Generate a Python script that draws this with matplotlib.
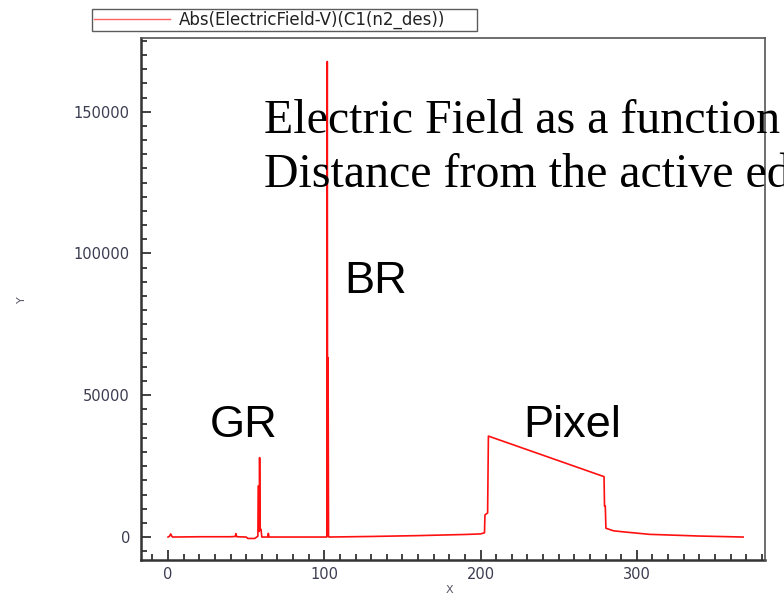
import matplotlib
matplotlib.use("Agg")
import matplotlib.pyplot as plt
from matplotlib.ticker import MultipleLocator
import numpy as np

# |E| along the cut line through the device (x in um, field in V/cm)
pos = [0, 1.0, 1.7, 2.5, 3.0, 20, 40, 43.0, 43.4, 44.0, 50, 51, 55.5, 57.5,
       57.7, 58.1, 58.3, 58.6, 59.0, 59.2, 59.5, 60.0, 63.8, 64.2, 64.6, 70, 100,
       101.6, 101.9, 102.1, 102.4, 102.7, 103.0, 130, 160, 190, 200, 202.5,
       202.8, 204.5, 205.0, 279.0, 279.3, 279.8, 280.2, 285, 290, 308, 340, 368]
field = [0, 300, 1100, 200, 0, 100, 100, 200, 1200, 100, 0, -500, -500, 300,
         18000, 18000, 2000, 28000, 2500, 2700, 2700, 0, 0, 1300, 0, 0, 0,
         0, 167700, 500, 63200, 300, 0, 200, 500, 900, 1100, 1500,
         7800, 8500, 35600, 21300, 10900, 10900, 3100, 2200, 1900, 950, 350, 0]

series_name = 'Abs(ElectricField-V)(C1(n2_des))'
x_ticks = [0, 100, 200, 300]
y_ticks = [0, 50000, 100000, 150000]

W, H = 784, 605
fig = plt.figure(figsize=(W / 100, H / 100), dpi=100)
ax = fig.add_axes([141 / W, 45 / H, 624 / W, 522 / H])

line, = ax.plot(pos, field, color='#ff1010', linewidth=1.2)

ax.set_xlim(-17.3, 382)
ax.set_ylim(-8100, 176000)
ax.set_xticks(x_ticks)
ax.set_yticks(y_ticks)
ax.set_xticklabels([str(v) for v in x_ticks])
ax.set_yticklabels([str(v) for v in y_ticks])
ax.xaxis.set_minor_locator(MultipleLocator(10))
ax.yaxis.set_minor_locator(MultipleLocator(5000))

lab_col = '#3c3c52'
ax.tick_params(which='both', direction='in', top=False, right=False,
               width=1.3, color='#333333')
ax.tick_params(which='major', length=7)
ax.tick_params(which='minor', length=4)
ax.tick_params(axis='y', which='major', pad=8, labelsize=10.5, labelcolor=lab_col)
ax.tick_params(axis='x', which='major', pad=5, labelsize=10.5, labelcolor=lab_col)

for side in ['left', 'bottom']:
    ax.spines[side].set_linewidth(1.8)
    ax.spines[side].set_color('#333333')
for side in ['top', 'right']:
    ax.spines[side].set_linewidth(1.2)
    ax.spines[side].set_color('#555555')
    ax.spines[side].set_zorder(10)

fig.text(449 / W, 1 - 590 / H, 'X', ha='center', va='center', fontsize=8, color='#555566')
fig.text(22 / W, 1 - 300 / H, 'Y', ha='center', va='center', fontsize=8,
         color='#555566', rotation=90)

# legend box above the frame
leg = fig.legend([line], [series_name], loc='lower left',
                 bbox_to_anchor=(92 / W, 1 - 31 / H, 385 / W, 19 / H),
                 mode='expand', fancybox=False, frameon=True, handlelength=4.6,
                 borderpad=0.1, handletextpad=0.5, fontsize=12, borderaxespad=0)
leg.get_frame().set_edgecolor('#333333')
leg.get_frame().set_linewidth(1.0)
leg.get_lines()[0].set_color('#ff6060')
leg.get_lines()[0].set_linewidth(1.0)
leg.get_texts()[0].set_color('#222222')

# annotations
fig.text(264 / W, 1 - 133 / H, 'Electric Field as a function of',
         family='Liberation Serif', fontsize=34.5, va='baseline', zorder=1)
fig.text(264 / W, 1 - 187 / H, 'Distance from the active edge',
         family='Liberation Serif', fontsize=34.5, va='baseline', zorder=1)
fig.text(344 / W, 1 - 293 / H, 'BR', family='Liberation Sans', fontsize=32.5, va='baseline')
fig.text(210 / W, 1 - 437 / H, 'GR', family='Liberation Sans', fontsize=32.5, va='baseline')
fig.text(523 / W, 1 - 437 / H, 'Pixel', family='Liberation Sans', fontsize=32.5, va='baseline')

fig.savefig('out.png', dpi=100)
